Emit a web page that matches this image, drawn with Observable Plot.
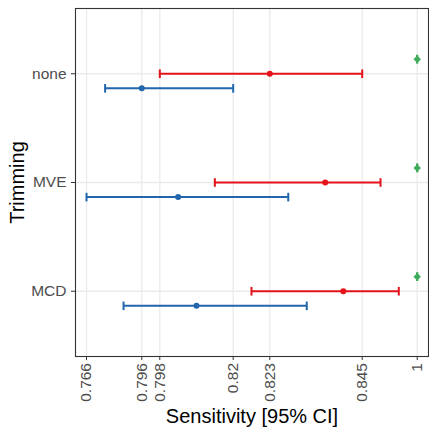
<!DOCTYPE html>
<html><head><meta charset="utf-8">
<script src="https://cdn.jsdelivr.net/npm/d3@7"></script>
<script src="https://cdn.jsdelivr.net/npm/@observablehq/plot@0.6"></script>
<style>
body{margin:0;background:#fff;}
#chart svg{font-family:"Liberation Sans",Arial,Helvetica,sans-serif;background:#fff;}
#chart g[aria-label="x-axis tick label"], #chart g[aria-label="y-axis tick label"]{fill:#4D4D4D;font-size:15.5px;}
#chart g[aria-label="x-axis label"], #chart g[aria-label="y-axis label"]{fill:#000;font-size:20px;}
</style></head><body><div id="chart"></div>
<script>
// categories (top to bottom)
const trimming = ["none", "MVE", "MCD"];
// red series: estimate and 95% CI
const redEst = [0.823, 0.8362, 0.8405];
const redLo  = [0.798, 0.8145, 0.8215];
const redHi  = [0.845, 0.8966, 0.9481];
// blue series
const blueEst = [0.796, 0.8035, 0.809];
const blueLo  = [0.7761, 0.766, 0.7861];
const blueHi  = [0.82, 0.8274, 0.8318];
// green series (point estimate, CI collapsed)
const greenEst = [1, 1, 1];
// x tick values / labels
const xTicks = [0.766, 0.796, 0.798, 0.82, 0.823, 0.845, 1];
const xTickLabels = ["0.766", "0.796", "0.798", "0.82", "0.823", "0.845", "1"];

const W = 429, H = 432, mL = 75, mR = 1, mT = 8, mB = 76;
// piecewise axis: relative placement of each break across the panel
const breakFrac = [0.0312, 0.1878, 0.2388, 0.4467, 0.5504, 0.8122, 0.968];
const xRange = breakFrac.map(f => mL + f * (W - mL - mR));

const mk = (est, lo, hi) => trimming.map((t, i) => ({t, est: est[i], lo: lo[i], hi: hi[i]}));
const red = mk(redEst, redLo, redHi);
const blue = mk(blueEst, blueLo, blueHi);
const green = mk(greenEst, greenEst, greenEst);

// vertical error-bar cap as a symbol
const capSymbol = {draw(ctx) { ctx.moveTo(0, -4.3); ctx.lineTo(0, 4.3); }};

const series = [
  {data: green, color: "#41AB5D", dy: -14.6, symbol: "diamond2", r: 3.4},
  {data: red, color: "#E3121B", dy: 0, symbol: "circle", r: 3},
  {data: blue, color: "#2166AC", dy: 14.6, symbol: "circle", r: 3}
];

const marks = [
  Plot.gridX(xTicks, {stroke: "#EBEBEB", strokeOpacity: 1, strokeWidth: 1.3}),
  Plot.gridY(trimming, {stroke: "#EBEBEB", strokeOpacity: 1, strokeWidth: 1.3}),
];
for (const s of series) {
  marks.push(
    Plot.ruleY(s.data, {y: "t", x1: "lo", x2: "hi", stroke: s.color, strokeWidth: 2, dy: s.dy}),
    Plot.dot(s.data, {x: "lo", y: "t", stroke: s.color, strokeWidth: 2, fill: "none", symbol: capSymbol, dy: s.dy}),
    Plot.dot(s.data, {x: "hi", y: "t", stroke: s.color, strokeWidth: 2, fill: "none", symbol: capSymbol, dy: s.dy}),
    Plot.dot(s.data, {x: "est", y: "t", fill: s.color, stroke: "none", r: s.r, symbol: s.symbol, dy: s.dy})
  );
}
marks.push(
  Plot.axisX(xTicks, {tickRotate: -90, tickSize: 4, tickPadding: 2.5, stroke: "#333",
    tickFormat: d => xTickLabels[xTicks.indexOf(d)],
    label: "Sensitivity [95% CI]", labelArrow: "none", labelAnchor: "center", labelOffset: 66}),
  Plot.axisY(trimming, {tickSize: 4, tickPadding: 5, stroke: "#333",
    label: "Trimming", labelArrow: "none", labelAnchor: "center", labelOffset: 66}),
  Plot.frame({stroke: "#333", strokeWidth: 1.1})
);

const chart = Plot.plot({
  width: W, height: H,
  marginLeft: mL, marginRight: mR, marginTop: mT, marginBottom: mB,
  x: {type: "linear", domain: xTicks, range: xRange},
  y: {type: "point", domain: trimming, padding: 0.6, round: false},
  marks
});
document.getElementById("chart").appendChild(chart);
</script></body></html>
